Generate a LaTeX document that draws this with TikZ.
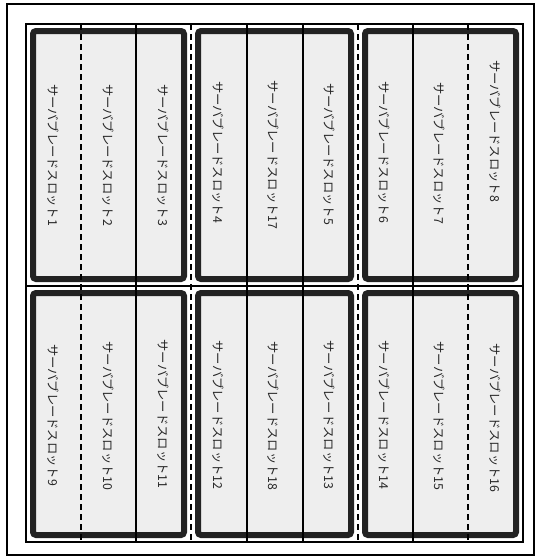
\documentclass[tikz,border=0pt]{standalone}
\usepackage{fontspec}
\newfontfamily\jpfont{Noto Sans CJK JP}
\definecolor{boxedge}{HTML}{222222}
\definecolor{boxfill}{HTML}{EEEEEE}
\definecolor{slottext}{HTML}{262626}
\tikzset{
  frameline/.style={draw=black, line width=2pt},
  gridsolid/.style={draw=black, line width=2pt},
  griddash/.style={draw=black, line width=2pt, dash pattern=on 6pt off 4pt},
  groupbox/.style={draw=boxedge, fill=boxfill, line width=6pt, rounded corners=3pt},
  slotlabel/.style={rotate=-90, text=slottext, font=\jpfont\fontsize{12.3}{12.3}\selectfont, inner sep=0pt}
}
\begin{document}
\begin{tikzpicture}[x=1pt,y=-1pt]
\useasboundingbox (0,0) rectangle (539,560);
% outer frame
\draw[frameline] (7,4) rectangle (534,555);
% coordinates of grid
\coordinate (gtl) at (26,24);
\coordinate (gbr) at (523,542);
% group boxes
\foreach \xa/\xb in {26/191, 191/358, 358/523}{
  \draw[groupbox] (\xa+7,24+7) rectangle (\xb-7,286-7);
  \draw[groupbox] (\xa+7,286+7) rectangle (\xb-7,542-7);
}
% grid lines
\foreach \x in {136,247,303,413}{
  \coordinate (st\x) at (\x,24);
  \coordinate (sb\x) at (\x,542);
  \draw[gridsolid] (st\x) -- (sb\x);
}
\foreach \x in {81,191,358,468}{
  \coordinate (dt\x) at (\x,24);
  \coordinate (db\x) at (\x,542);
  \draw[griddash] (dt\x) -- (db\x);
}
\coordinate (ml) at (26,286);
\coordinate (mr) at (523,286);
\draw[gridsolid] (ml) -- (mr);
\draw[gridsolid] (gtl) rectangle (gbr);
% labels, row 1
\node[slotlabel] (s1)  at (53.5,155) {サーバブレードスロット1};
\node[slotlabel] (s2)  at (108.5,155) {サーバブレードスロット2};
\node[slotlabel] (s3)  at (163.5,155) {サーバブレードスロット3};
\node[slotlabel] (s4)  at (218.5,152) {サーバブレードスロット4};
\node[slotlabel] (s17) at (273.5,155) {サーバブレードスロット17};
\node[slotlabel] (s5)  at (329,154) {サーバブレードスロット5};
\node[slotlabel] (s6)  at (384,152) {サーバブレードスロット6};
\node[slotlabel] (s7)  at (439,153) {サーバブレードスロット7};
\node[slotlabel] (s8)  at (495.5,131) {サーバブレードスロット8};
% labels, row 2
\node[slotlabel] (s9)  at (53.5,415) {サーバブレードスロット9};
\node[slotlabel] (s10) at (108.5,416) {サーバブレードスロット10};
\node[slotlabel] (s11) at (163.5,414) {サーバブレードスロット11};
\node[slotlabel] (s12) at (218.5,415) {サーバブレードスロット12};
\node[slotlabel] (s18) at (273.5,416) {サーバブレードスロット18};
\node[slotlabel] (s13) at (329,415) {サーバブレードスロット13};
\node[slotlabel] (s14) at (384,415) {サーバブレードスロット14};
\node[slotlabel] (s15) at (439,416) {サーバブレードスロット15};
\node[slotlabel] (s16) at (495.5,418) {サーバブレードスロット16};
\end{tikzpicture}
\end{document}
